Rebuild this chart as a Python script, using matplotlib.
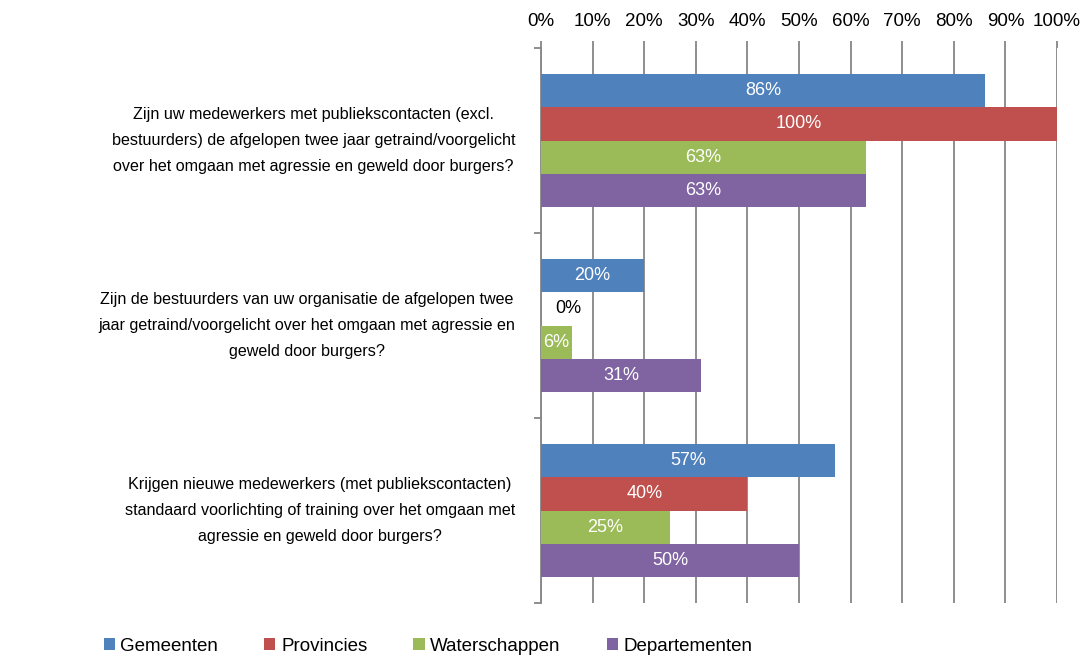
import matplotlib

matplotlib.use("Agg")
import matplotlib.pyplot as plt
import numpy as np

plt.rcParams["font.family"] = ["Liberation Sans", "DejaVu Sans"]

vragen = [
    "Zijn uw medewerkers met publiekscontacten (excl.\nbestuurders) de afgelopen twee jaar getraind/voorgelicht\nover het omgaan met agressie en geweld door burgers?",
    "Zijn de bestuurders van uw organisatie de afgelopen twee\njaar getraind/voorgelicht over het omgaan met agressie en\ngeweld door burgers?",
    "Krijgen nieuwe medewerkers (met publiekscontacten)\nstandaard voorlichting of training over het omgaan met\nagressie en geweld door burgers?",
]
reeksen = ["Gemeenten", "Provincies", "Waterschappen", "Departementen"]
gemeenten = [86, 20, 57]
provincies = [100, 0, 40]
waterschappen = [63, 6, 25]
departementen = [63, 31, 50]
kleuren = ["#4F81BD", "#C0504D", "#9BBB59", "#8064A2"]

waarden = [gemeenten, provincies, waterschappen, departementen]

fig = plt.figure(figsize=(10.89, 6.57), dpi=100)
ax = fig.add_axes([541 / 1089, 54 / 657, 516 / 1089, 555 / 657])

centra = np.arange(len(vragen)) + 0.5
hoogte = 0.181
for i, (naam, vals, kleur) in enumerate(zip(reeksen, waarden, kleuren)):
    y = centra + (i - 1.5) * hoogte
    bars = ax.barh(y, np.array(vals) / 100, height=hoogte, color=kleur, label=naam, zorder=3)
    for b, v in zip(bars, vals):
        if v == 0:
            ax.text(0.028, b.get_y() + hoogte / 2, f"{v}%", ha="left", va="center",
                    fontsize=13, color="black", zorder=4)
        else:
            ax.text(v / 200, b.get_y() + hoogte / 2, f"{v}%", ha="center", va="center",
                    fontsize=13, color="white", zorder=4)

ax.set_xlim(0, 1)
ax.set_ylim(3, 0)
ax.xaxis.tick_top()
ax.set_xticks(np.arange(0, 1.01, 0.1))
ax.set_xticklabels([f"{int(t)}%" for t in np.arange(0, 101, 10)], fontsize=13.5)
ax.tick_params(axis="x", length=5, width=1.3, color="#868686", pad=8)
ax.grid(axis="x", color="#868686", linewidth=1.3, zorder=0)

ax.set_yticks([0, 1, 2, 3])
ax.set_yticklabels([])
ax.tick_params(axis="y", length=5, width=1.3, color="#868686")
for c, tekst in zip(centra, vragen):
    ax.text(-0.05, c, tekst, ha="right", va="center", multialignment="center",
            fontsize=11.6, linespacing=1.93, transform=ax.get_yaxis_transform())

for kant in ["top", "right", "bottom"]:
    ax.spines[kant].set_visible(False)
ax.spines["left"].set_color("#868686")
ax.spines["left"].set_linewidth(1.3)

fig.legend(loc="lower center", bbox_to_anchor=(0.393, -0.022), ncol=4, frameon=False,
           fontsize=13.5, handlelength=0.6, handleheight=0.6, handletextpad=0.3,
           columnspacing=2.45)

fig.savefig("out.png", dpi=100)
